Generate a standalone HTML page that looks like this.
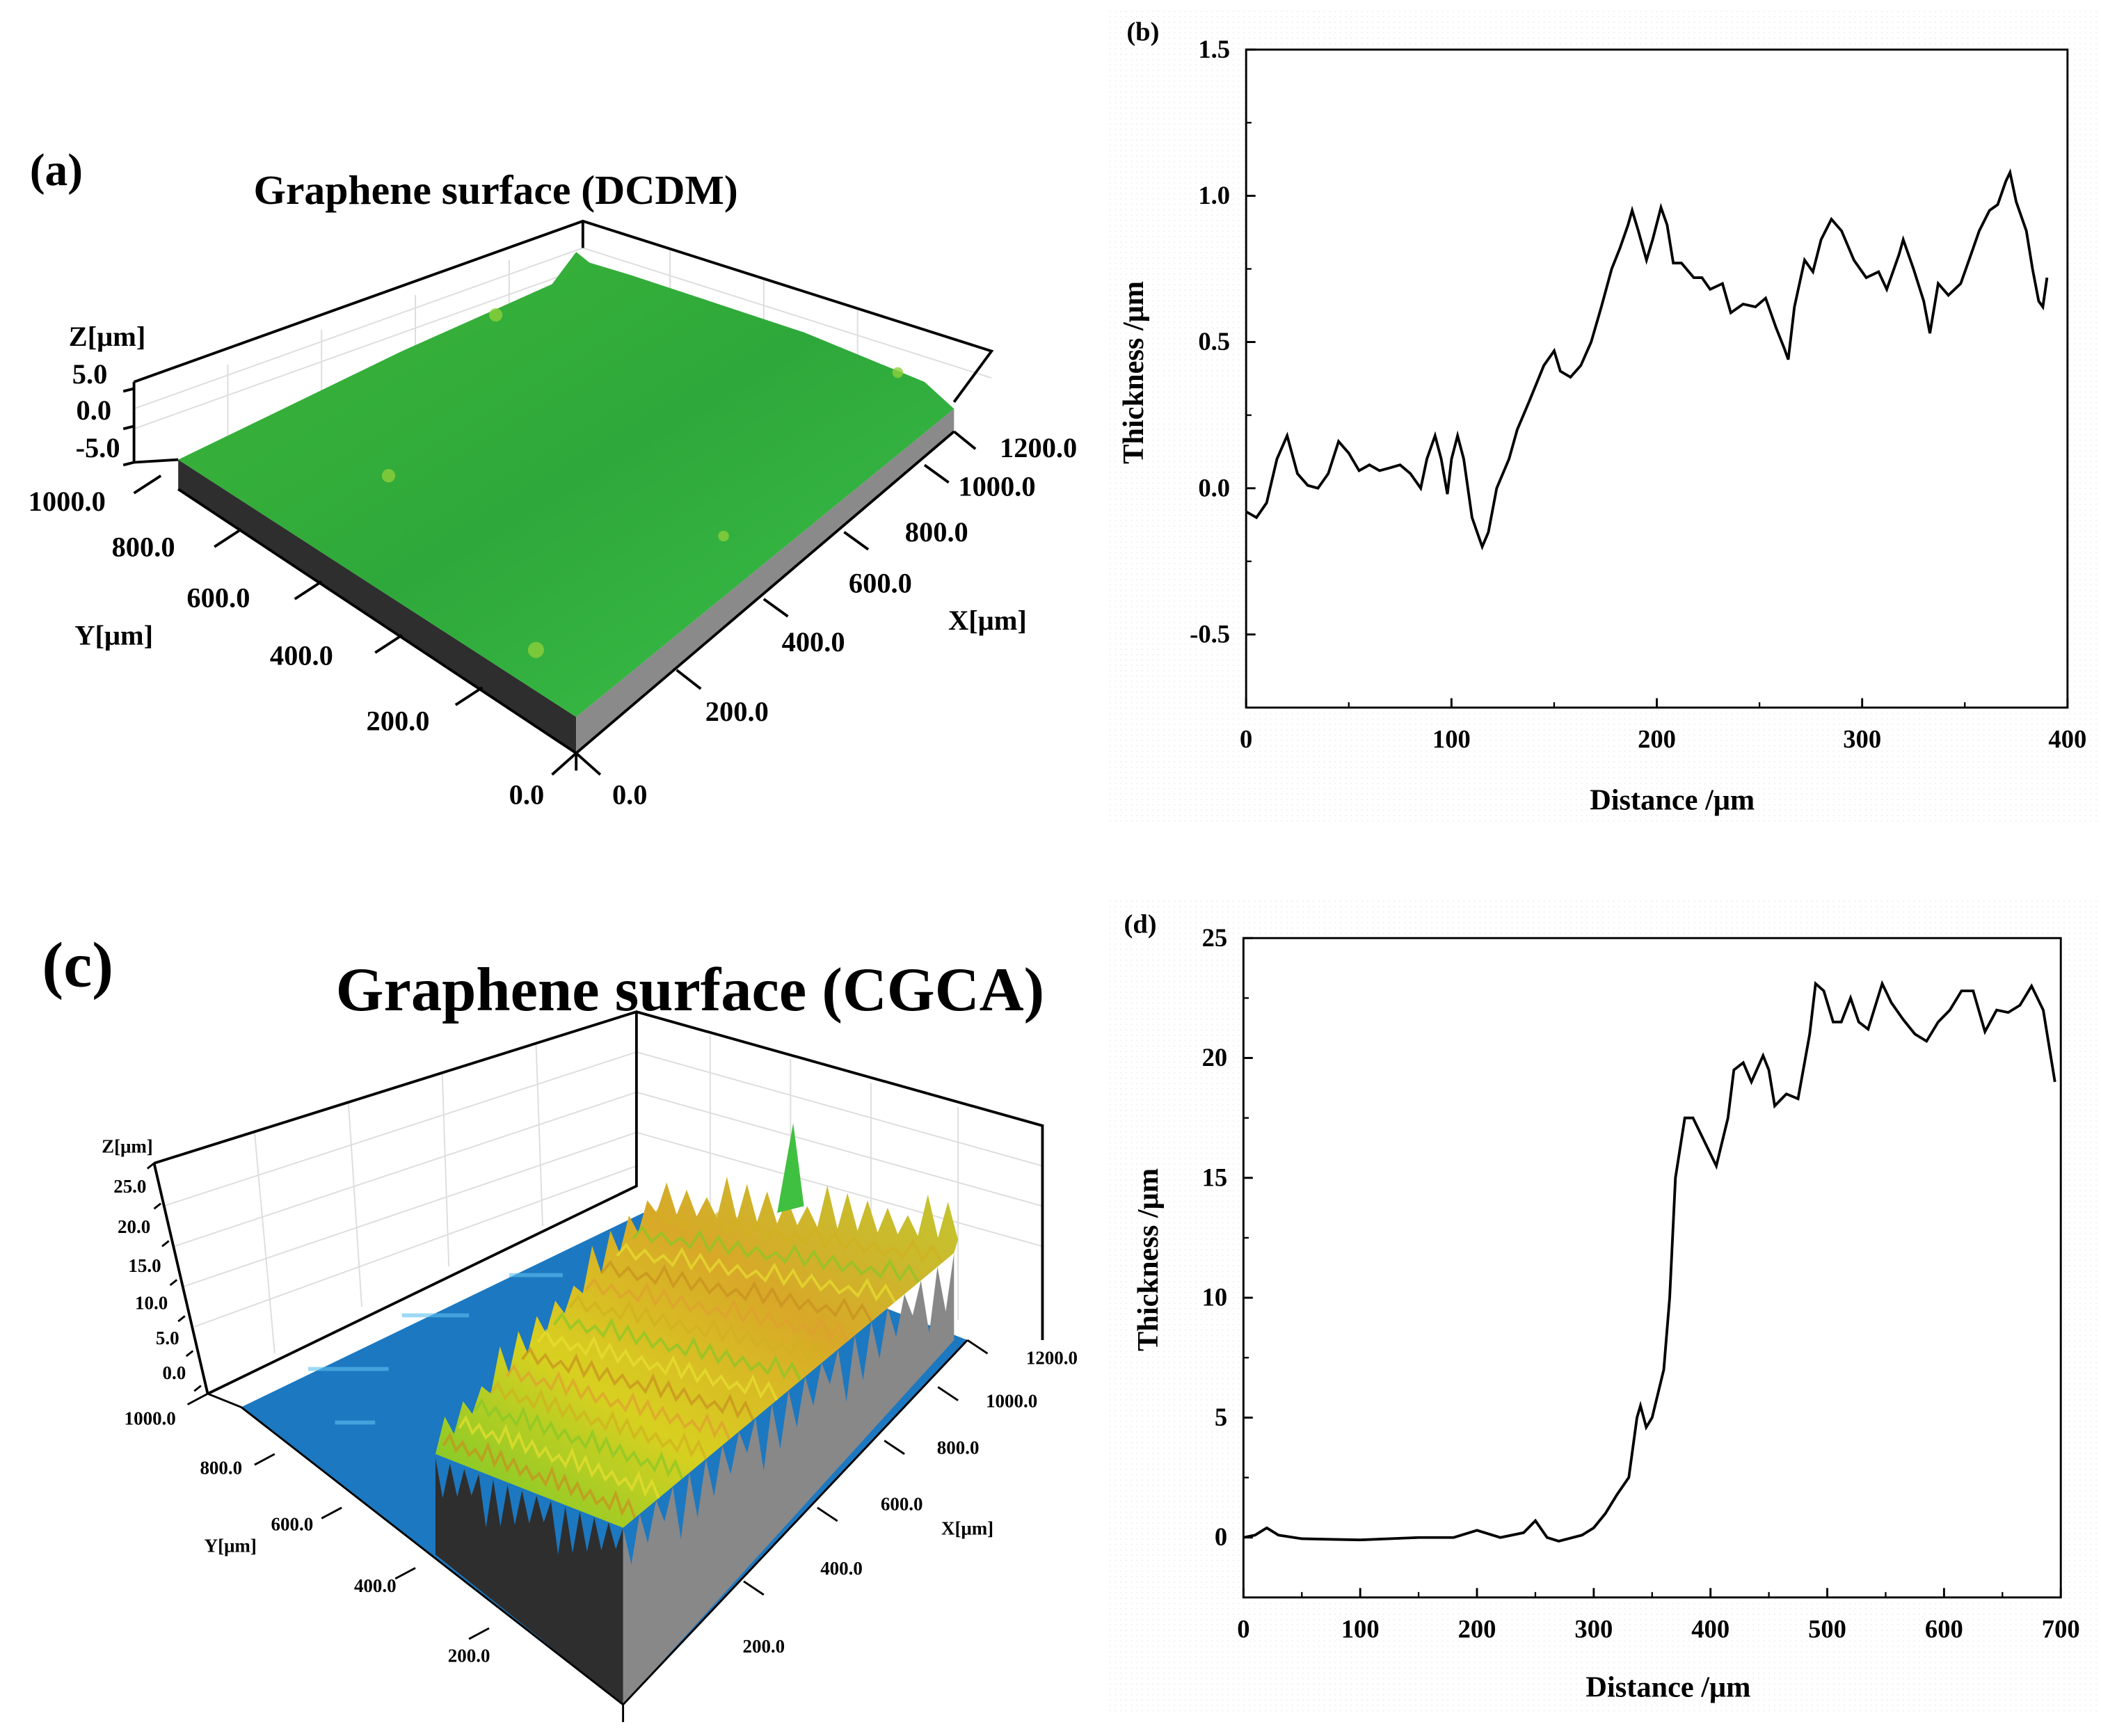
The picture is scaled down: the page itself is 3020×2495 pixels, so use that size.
<!DOCTYPE html>
<html><head><meta charset="utf-8"><style>
html,body{margin:0;padding:0;background:#fff}
svg{display:block}
text{font-family:"Liberation Serif",serif;font-weight:bold;fill:#000}
</style></head><body>
<svg id="fig" width="3020" height="2495" viewBox="0 0 1568 1295.4" preserveAspectRatio="none" xmlns="http://www.w3.org/2000/svg">
<rect width="1568" height="1296" fill="#fff"/>
<defs>
<linearGradient id="grn" x1="0" y1="0" x2="1" y2="1"><stop offset="0" stop-color="#3db53a"/><stop offset="0.5" stop-color="#2ea83a"/><stop offset="1" stop-color="#3cc04a"/></linearGradient>
<linearGradient id="yel" x1="0" y1="1" x2="1" y2="0"><stop offset="0" stop-color="#6cc82a"/><stop offset="0.35" stop-color="#d8d020"/><stop offset="0.65" stop-color="#d8a828"/><stop offset="1" stop-color="#c0c830"/></linearGradient>
<pattern id="dots" width="4" height="4" patternUnits="userSpaceOnUse"><rect width="4" height="4" fill="#fff"/><rect width="1" height="1" fill="#f0f0f0"/></pattern>
</defs>

<!-- Panel a -->
<g>
<text x="42" y="138" font-size="34" text-anchor="middle">(a)</text>
<text x="370" y="152" font-size="31" text-anchor="middle">Graphene surface (DCDM)</text>
<g stroke="#ddd" stroke-width="1" fill="none">
<path d="M170 272 L170 330 M240 246 L240 305 M310 220 L310 280 M380 194 L380 255 M500 186 L500 235 M570 208 L570 255 M640 230 L640 275 M100 305 L435 185 M100 320 L435 200 M435 185 L740 282"/>
</g>
<path d="M100 285 L435 165 L740 262 L712 300 M100 285 L100 345 M435 165 L435 185" stroke="#000" stroke-width="2" fill="none"/>
<polygon points="133,343 430,535 430,562 133,365" fill="#2e2e2e"/>
<polygon points="430,535 712,305 712,322 430,562" fill="#8a8a8a"/>
<polygon points="133,343 300,262 412,212 430,188 440,196 470,205 600,248 690,285 712,305 430,535" fill="url(#grn)"/>
<g fill="#8ccf3a" opacity="0.8"><circle cx="290" cy="355" r="5"/><circle cx="400" cy="485" r="6"/><circle cx="370" cy="235" r="5"/><circle cx="670" cy="278" r="4"/><circle cx="540" cy="400" r="4"/></g>
<path d="M133 365 L430 562 L712 322 M430 562 L430 575 M133 343 L100 345" stroke="#000" stroke-width="2" fill="none"/>
<g stroke="#000" stroke-width="2">
<path d="M120 355 L100 368 M180 395 L160 408 M240 434 L220 447 M300 474 L280 487 M360 513 L340 526 M430 562 L412 578 M430 562 L448 578 M505 500 L523 514 M570 447 L588 460 M630 397 L648 410 M690 347 L708 360 M712 322 L728 335 M100 290 L92 292 M100 318 L92 320 M100 345 L92 347"/>
</g>
<g font-size="21" text-anchor="middle">
<text x="80" y="258">Z[μm]</text><text x="67" y="286">5.0</text><text x="70" y="313">0.0</text><text x="73" y="341">-5.0</text>
<text x="50" y="381">1000.0</text><text x="107" y="415">800.0</text><text x="163" y="453">600.0</text><text x="85" y="481">Y[μm]</text><text x="225" y="496">400.0</text><text x="297" y="545">200.0</text><text x="393" y="600">0.0</text>
<text x="470" y="600">0.0</text><text x="550" y="538">200.0</text><text x="607" y="486">400.0</text><text x="657" y="442">600.0</text><text x="737" y="470">X[μm]</text><text x="699" y="404">800.0</text><text x="744" y="370">1000.0</text><text x="775" y="341">1200.0</text>
</g>
</g>

<!-- Panel c -->
<g>
<text x="58" y="736" font-size="48" text-anchor="middle">(c)</text>
<text x="515" y="754" font-size="46" text-anchor="middle">Graphene surface (CGCA)</text>
<g stroke="#ddd" stroke-width="1" fill="none">
<path d="M190 845 L205 1010 M260 822 L270 975 M330 800 L335 945 M400 778 L405 915 M530 772 L530 905 M590 790 L590 930 M650 808 L650 955 M715 826 L715 985 M122 900 L475 785 M130 930 L475 815 M137 960 L475 845 M145 990 L475 870 M475 785 L778 870 M475 815 L778 900 M475 845 L778 930"/>
</g>
<path d="M115 868 L475 755 L778 840 L778 1000 M115 868 L155 1040 M475 755 L475 885 L155 1040" stroke="#000" stroke-width="2" fill="none"/>
<polygon points="180,1050 480,905 722,1000 465,1272" fill="#1c78c0"/>
<g fill="#5cc0f0" opacity="0.6"><rect x="230" y="1020" width="60" height="3"/><rect x="300" y="980" width="50" height="3"/><rect x="380" y="950" width="40" height="3"/><rect x="250" y="1060" width="30" height="3"/></g>
<polygon id="spiky" fill="url(#yel)"/>
<g id="tex" stroke-width="2" fill="none"></g>
<polygon points="580,905 592,838 600,900" fill="#40c040"/>
<polygon id="dark" fill="#2e2e2e"/>
<polygon id="gray" fill="#888"/>
<path d="M155 1040 L180 1050 L465 1272 L722 1000 M465 1272 L465 1285" stroke="#000" stroke-width="1.5" fill="none"/>
<g stroke="#000" stroke-width="1.5">
<path d="M155 1040 L140 1048 M205 1085 L190 1093 M255 1125 L240 1133 M310 1170 L295 1178 M365 1215 L350 1223 M555 1180 L570 1190 M610 1125 L625 1135 M660 1075 L675 1085 M700 1035 L715 1045 M722 1000 L737 1010 M115 868 L110 872 M120 898 L115 902 M126 926 L121 930 M132 955 L127 959 M138 982 L133 986 M144 1008 L139 1012 M150 1034 L145 1038"/>
</g>
<g font-size="14" text-anchor="middle">
<text x="95" y="860">Z[μm]</text><text x="97" y="890">25.0</text><text x="100" y="920">20.0</text><text x="108" y="949">15.0</text><text x="113" y="977">10.0</text><text x="125" y="1003">5.0</text><text x="130" y="1029">0.0</text>
<text x="112" y="1063">1000.0</text><text x="165" y="1100">800.0</text><text x="218" y="1142">600.0</text><text x="172" y="1158">Y[μm]</text><text x="280" y="1188">400.0</text><text x="350" y="1240">200.0</text>
<text x="785" y="1018">1200.0</text><text x="755" y="1050">1000.0</text><text x="715" y="1085">800.0</text><text x="673" y="1127">600.0</text><text x="722" y="1145">X[μm]</text><text x="628" y="1175">400.0</text><text x="570" y="1233">200.0</text>
</g>
</g>

<!-- Panel b -->
<g>
<rect x="825" y="5" width="743" height="610" fill="url(#dots)"/>
<rect x="930" y="37" width="613" height="491" fill="#fff" stroke="#000" stroke-width="1.5"/>
<g id="bAxes"></g>
<path id="bLine" fill="none" stroke="#000" stroke-width="2"/>
<text x="853" y="30" font-size="20" text-anchor="middle">(b)</text>
<text x="1248" y="604" font-size="22" text-anchor="middle">Distance /μm</text>
<text transform="translate(853,278) rotate(-90)" font-size="22" text-anchor="middle">Thickness /μm</text>
</g>

<!-- Panel d -->
<g>
<rect x="825" y="670" width="743" height="610" fill="url(#dots)"/>
<rect x="928" y="700" width="610" height="492" fill="#fff" stroke="#000" stroke-width="1.5"/>
<g id="dAxes"></g>
<path id="dLine" fill="none" stroke="#000" stroke-width="2"/>
<text x="851" y="696" font-size="20" text-anchor="middle">(d)</text>
<text x="1245" y="1266" font-size="22" text-anchor="middle">Distance /μm</text>
<text transform="translate(864,940) rotate(-90)" font-size="22" text-anchor="middle">Thickness /μm</text>
</g>
</svg>
<script>
const bDist=[0,5,10,15,20,25,30,35,40,45,50,55,60,65,70,75,80,85,88,92,95,98,100,103,106,110,115,118,122,128,132,138,145,150,153,158,163,168,173,178,182,186,188,191,195,198,202,205,208,212,218,222,226,232,236,242,248,253,258,262,264,267,272,276,280,285,290,296,302,308,312,318,320,325,330,333,337,342,348,353,357,362,366,370,372,375,380,383,386,388,390];
const bThick=[-0.08,-0.1,-0.05,0.1,0.18,0.05,0.01,0.0,0.05,0.16,0.12,0.06,0.08,0.06,0.07,0.08,0.05,0.0,0.1,0.18,0.1,-0.02,0.1,0.18,0.1,-0.1,-0.2,-0.15,0.0,0.1,0.2,0.3,0.42,0.47,0.4,0.38,0.42,0.5,0.62,0.75,0.82,0.9,0.95,0.88,0.78,0.85,0.96,0.9,0.77,0.77,0.72,0.72,0.68,0.7,0.6,0.63,0.62,0.65,0.55,0.48,0.44,0.62,0.78,0.74,0.85,0.92,0.88,0.78,0.72,0.74,0.68,0.8,0.85,0.75,0.64,0.53,0.7,0.66,0.7,0.8,0.88,0.95,0.97,1.05,1.08,0.98,0.88,0.75,0.64,0.62,0.72];
const bXTicks=[0,100,200,300,400];
const bYTicks=[-0.5,0.0,0.5,1.0,1.5];
const dDist=[0,10,20,30,50,100,150,180,200,220,240,250,260,270,290,300,310,320,330,337,340,345,350,360,365,370,378,385,395,405,415,420,428,435,445,450,455,465,475,485,490,497,505,512,520,527,535,547,555,565,575,585,595,605,615,625,635,645,655,665,675,685,695];
const dThick=[0,0.1,0.4,0.1,-0.05,-0.1,0,0,0.3,0,0.2,0.7,0,-0.15,0.1,0.4,1,1.8,2.5,5,5.5,4.6,5,7,10,15,17.5,17.5,16.5,15.5,17.5,19.5,19.8,19,20.1,19.5,18,18.5,18.3,21,23.1,22.8,21.5,21.5,22.5,21.5,21.2,23.1,22.3,21.6,21,20.7,21.5,22,22.8,22.8,21.1,22,21.9,22.2,23,22,19];
const dXTicks=[0,100,200,300,400,500,600,700];
const dYTicks=[0,5,10,15,20,25];

const NS='http://www.w3.org/2000/svg';
function mk(tag,attrs,parent){const e=document.createElementNS(NS,tag);for(const k in attrs)e.setAttribute(k,attrs[k]);parent.appendChild(e);return e;}
function chart(cfg){
  const sx=v=>cfg.x0+(v-cfg.xmin)/(cfg.xmax-cfg.xmin)*(cfg.x1-cfg.x0);
  const sy=v=>cfg.y1-(v-cfg.ymin)/(cfg.ymax-cfg.ymin)*(cfg.y1-cfg.y0);
  const g=document.getElementById(cfg.axes);
  const xs=cfg.xt, ys=cfg.yt;
  for(let i=0;i<xs.length;i++){
    const X=sx(xs[i]);
    const t=mk('line',{x1:X,x2:X,y1:cfg.y1,y2:cfg.y1-7,stroke:'#000','stroke-width':1.5},g);
    
    
    if(i<xs.length-1){const m=sx((xs[i]+xs[i+1])/2);mk('line',{x1:m,x2:m,y1:cfg.y1,y2:cfg.y1-4,stroke:'#000','stroke-width':1.2},g);}
    const l=mk('text',{x:X,y:cfg.y1+30,'font-size':19,'text-anchor':'middle'},g);
    l.textContent=cfg.xfmt(xs[i]);
    
    
  }
  for(let i=0;i<ys.length;i++){
    const Y=sy(ys[i]);
    const t=mk('line',{x1:cfg.x0,x2:cfg.x0+7,y1:Y,y2:Y,stroke:'#000','stroke-width':1.5},g);
    
    
    if(i<ys.length-1){const m=sy((ys[i]+ys[i+1])/2);mk('line',{x1:cfg.x0,x2:cfg.x0+4,y1:m,y2:m,stroke:'#000','stroke-width':1.2},g);}
    const l=mk('text',{x:cfg.x0-12,y:Y+6,'font-size':19,'text-anchor':'end'},g);
    l.textContent=cfg.yfmt(ys[i]);
    
    
  }
  let d='';
  for(let i=0;i<cfg.xv.length;i++)d+=(i?'L':'M')+sx(cfg.xv[i]).toFixed(1)+' '+sy(cfg.yv[i]).toFixed(1);
  document.getElementById(cfg.line).setAttribute('d',d);
}
chart({axes:'bAxes',line:'bLine',x0:930,x1:1543,y0:37,y1:528,xmin:0,xmax:400,ymin:-0.75,ymax:1.5,xt:bXTicks,yt:bYTicks,xv:bDist,yv:bThick,xfmt:v=>String(v),yfmt:v=>v.toFixed(1)});
chart({axes:'dAxes',line:'dLine',x0:928,x1:1538,y0:700,y1:1192,xmin:0,xmax:700,ymin:-2.5,ymax:25,xt:dXTicks,yt:dYTicks,xv:dDist,yv:dThick,xfmt:v=>String(v),yfmt:v=>String(v)});

// decorative rough region for panel c (not data)
(function(){
  const jag=(ax,ay,bx,by,n,amp,up)=>{const p=[];for(let i=0;i<=n;i++){const t=i/n;const h=(i%2?amp*(0.6+((i*7)%5)/6):0);p.push([ax+t*(bx-ax),ay+t*(by-ay)-(up?h:-h)]);}return p;};
  const s=p=>p.map(q=>q[0].toFixed(1)+','+q[1].toFixed(1)).join(' ');
  // blue/yellow boundary (back-left) with spikes, then right edge, front edges
  const left=jag(325,1085,490,905,24,22,true);
  const back=jag(490,905,715,925,30,25,true);
  document.getElementById('spiky').setAttribute('points',s(left)+' '+s(back)+' 712,935 465,1140');
  const front=jag(325,1088,465,1140,26,30,false);
  document.getElementById('dark').setAttribute('points',s(front)+' 465,1272 325,1160');
  const side=jag(465,1140,712,935,40,35,false);
  document.getElementById('gray').setAttribute('points',s(side)+' 712,1000 465,1272');
  const tex=document.getElementById('tex');
  const cols=['#c89020','#e8e030','#88c828','#d0b020','#e0a030'];
  for(let k=0;k<14;k++){
    const t=(k+0.5)/14;
    const ax=325+t*165, ay=1085-t*180, bx=465+t*247, by=1140-t*205;
    const p=jag(ax,ay,bx,by,30,10,true);
    mk('polyline',{points:s(p),stroke:cols[k%5],opacity:0.7},tex);
  }
})();
</script>
</body></html>
